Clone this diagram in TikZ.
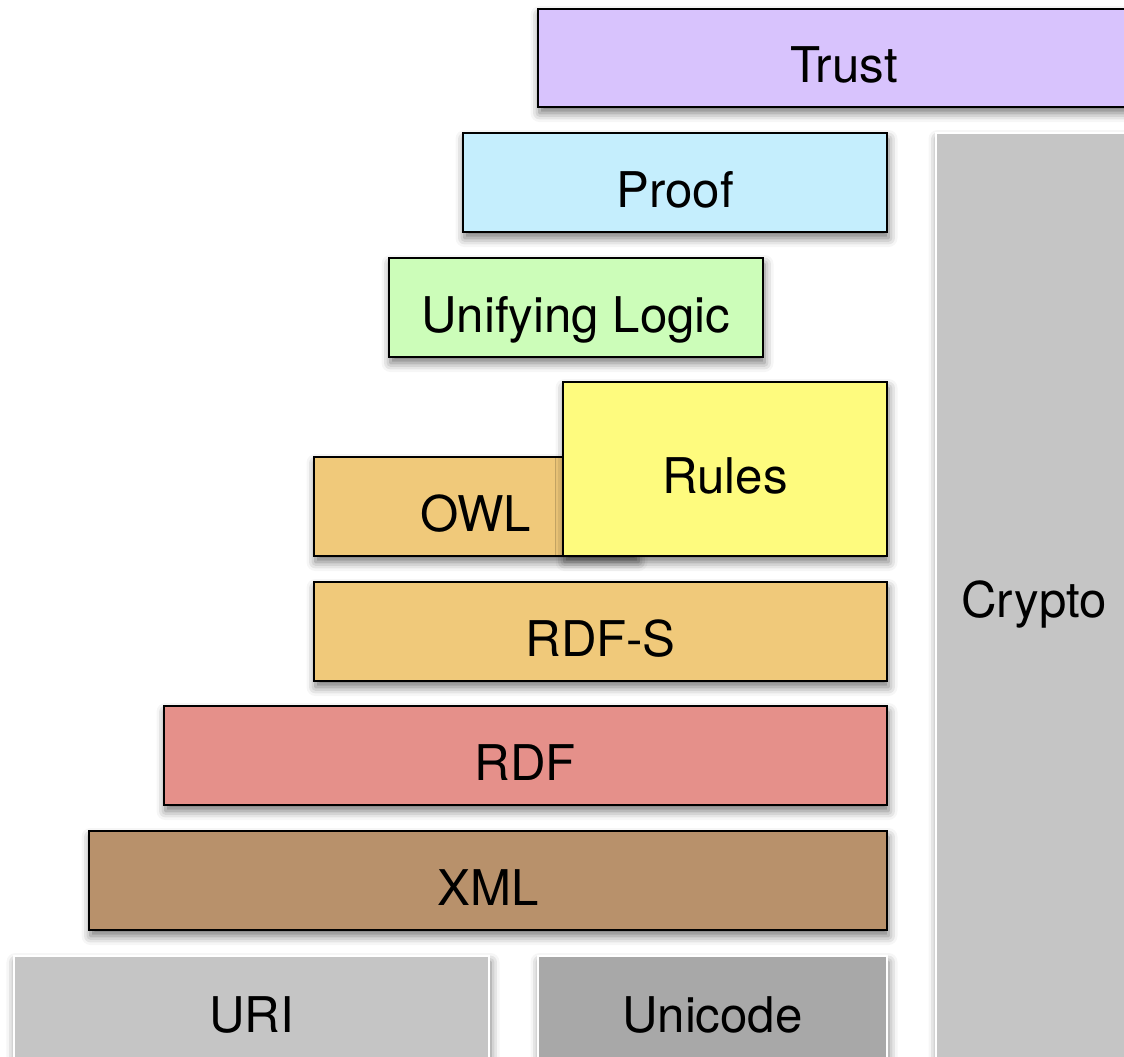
\documentclass[tikz,border=0pt]{standalone}
\usepackage{fontspec}
\setmainfont{TeX Gyre Heros}
\usepackage{tikz}
\usetikzlibrary{shadows,shadows.blur,positioning,fit}
\definecolor{trustc}{RGB}{216,195,253}
\definecolor{proofc}{RGB}{197,238,253}
\definecolor{logicc}{RGB}{204,253,185}
\definecolor{rulesc}{RGB}{254,251,126}
\definecolor{owlc}{RGB}{240,201,122}
\definecolor{rdfc}{RGB}{229,144,138}
\definecolor{xmlc}{RGB}{184,145,107}
\definecolor{greyc}{RGB}{197,197,197}
\definecolor{darkgreyc}{RGB}{168,168,168}

\begin{document}
\begin{tikzpicture}[
  layer/.style={draw=black, line width=1.4pt, inner sep=0pt, outer sep=0pt,
    font=\fontsize{28}{32}\selectfont, text height=0.98cm, text depth=0pt,
    blur shadow={shadow xshift=0.03cm, shadow yshift=-0.12cm, shadow blur radius=0.18cm, shadow opacity=55}},
  greylayer/.style={layer, draw=white}]
\useasboundingbox (0cm,0cm) rectangle (22.48cm,-21.12cm);
\clip (0cm,0cm) rectangle (22.48cm,-21.12cm);
% bottom row
\node[greylayer, fill=greyc, minimum width=9.50cm, minimum height=2.08cm] (uri) at (5.03cm,-20.16cm) {URI};
\node[greylayer, fill=darkgreyc, minimum width=6.98cm, minimum height=2.08cm] (unicode) at (14.25cm,-20.16cm) {Unicode};
% stack
\node[layer, fill=xmlc, minimum width=15.96cm, minimum height=1.98cm] (xml) at (9.76cm,-17.61cm) {XML};
\node[layer, fill=rdfc, minimum width=14.46cm, minimum height=1.98cm] (rdf) at (10.51cm,-15.11cm) {RDF};
\node[layer, fill=owlc, minimum width=11.46cm, minimum height=1.98cm] (rdfs) at (12.01cm,-12.63cm) {RDF-S};
\node[layer, fill=owlc, minimum width=6.46cm, minimum height=1.98cm] (owl) at (9.51cm,-10.13cm) {OWL};
\node[layer, fill=rulesc, minimum width=6.48cm, minimum height=3.48cm] (rules) at (14.50cm,-9.38cm) {Rules};
\node[layer, fill=logicc, minimum width=7.48cm, minimum height=1.98cm] (logic) at (11.52cm,-6.15cm) {Unifying Logic};
\node[layer, fill=proofc, minimum width=8.48cm, minimum height=1.98cm] (proof) at (13.50cm,-3.65cm) {Proof};
\node[layer, fill=trustc, minimum width=12.24cm, minimum height=1.96cm] (trust) at (16.88cm,-1.16cm) {Trust};
% side column
\node[greylayer, fill=greyc, text height=0.44cm, minimum width=3.92cm, minimum height=18.94cm] (crypto) at (20.68cm,-12.13cm) {Crypto};
\end{tikzpicture}
\end{document}
